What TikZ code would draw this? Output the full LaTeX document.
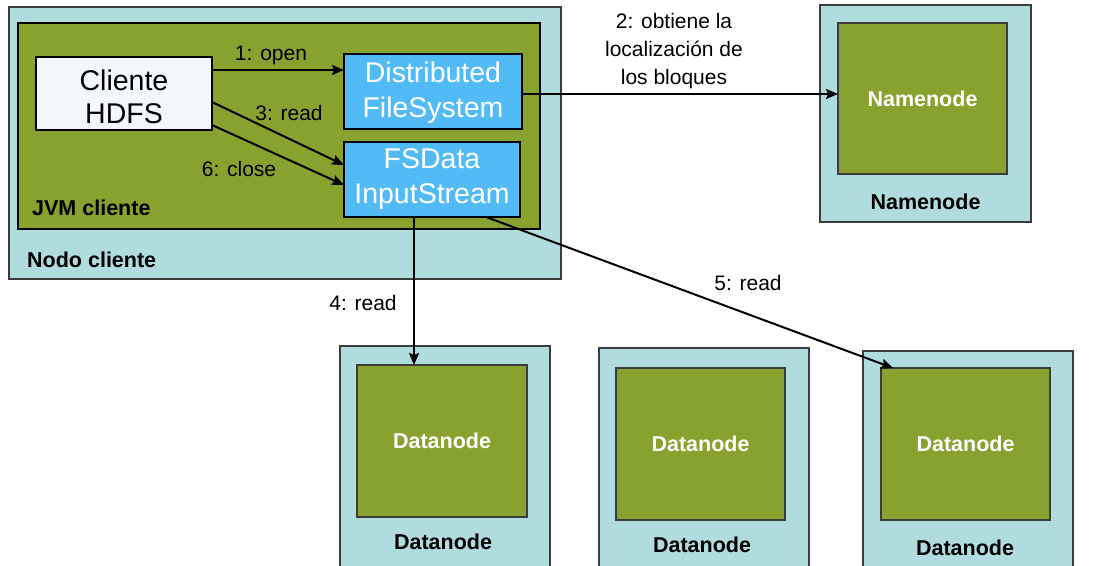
\documentclass[tikz,border=0pt]{standalone}
\usepackage{fontspec}
\setmainfont{Liberation Sans}
\usetikzlibrary{arrows.meta}

\definecolor{hostfill}{HTML}{B0DCDD}
\definecolor{jvmfill}{HTML}{87A22E}
\definecolor{compfill}{HTML}{52BBF6}
\definecolor{clientfill}{HTML}{F4F8FC}
\definecolor{edgegray}{HTML}{3C3C3C}

% box given by its corners: name, x1, y1, x2, y2, style
\newcommand\placebox[6]{%
  \node[#6, rectangle, inner sep=0pt, outer sep=0pt,
        minimum width={(#4-#2)*1pt}, minimum height={(#5-#3)*1pt}]
        (#1) at ({(#2+#4)/2},{(#3+#5)/2}) {};}

\tikzset{
  host/.style={draw=edgegray, fill=hostfill, line width=1.3pt},
  jvm/.style={draw=black, fill=jvmfill, line width=2.6pt},
  daemon/.style={draw=edgegray, fill=jvmfill, line width=1.4pt},
  client/.style={draw=black, fill=clientfill, line width=2.2pt},
  comp/.style={draw=black, fill=compfill, line width=2.6pt},
  boxtext/.style={align=center, inner sep=0pt, font=\fontsize{28.5}{33}\selectfont},
  comptext/.style={boxtext, text=white, font=\fontsize{28.5}{35}\selectfont},
  boldlbl/.style={font=\bfseries\fontsize{21.5}{24}\selectfont, inner sep=0pt},
  whitelbl/.style={boldlbl, text=white},
  lbl/.style={font=\fontsize{21}{28}\selectfont, inner sep=0pt, align=center},
  arr/.style={-{Stealth[length=12pt,width=10pt,inset=2pt]}, line width=2pt},
}

\begin{document}
\begin{tikzpicture}[x=1pt, y=-1pt]
\useasboundingbox (0,0) rectangle (1094,565);
\fill[white] (0,0) rectangle (1094,565);

% client host with its JVM
\placebox{nodo}{9}{7}{561}{279}{host}
\placebox{jvmbox}{18}{23}{540}{229}{jvm}
\placebox{cliente}{36}{57}{212}{130}{client}
\placebox{dfs}{344}{54}{522}{129}{comp}
\placebox{fsd}{344}{142}{520}{217}{comp}
\node[boxtext] (clientetxt) at (124,97) {Cliente\\HDFS};
\node[comptext] (dfstxt) at (433,93) {Distributed\\FileSystem};
\node[comptext] (fsdtxt) at (432,179) {FSData\\InputStream};
\node[boldlbl, anchor=west] (jvmlbl) at (32,208) {JVM cliente};
\node[boldlbl, anchor=west] (nodolbl) at (27,260) {Nodo cliente};

% namenode host
\placebox{nnhost}{820}{5}{1031}{222}{host}
\placebox{nnin}{838}{23}{1007}{174}{daemon}
\node[whitelbl] (nninlbl) at (nnin) {Namenode};
\node[boldlbl] (nnlbl) at (925.5,202) {Namenode};

% datanode hosts
\placebox{dnahost}{340}{346}{550}{568}{host}
\placebox{dnain}{357}{365}{527}{517}{daemon}
\node[whitelbl] (dnainlbl) at (dnain) {Datanode};
\node[boldlbl] (dnalbl) at (443,542) {Datanode};

\placebox{dnbhost}{599}{348}{809}{568}{host}
\placebox{dnbin}{616}{368}{785}{520}{daemon}
\node[whitelbl] (dnbinlbl) at (dnbin) {Datanode};
\node[boldlbl] (dnblbl) at (702,545) {Datanode};

\placebox{dnchost}{863}{351}{1073}{568}{host}
\placebox{dncin}{881}{368}{1050}{520}{daemon}
\node[whitelbl] (dncinlbl) at (dncin) {Datanode};
\node[boldlbl] (dnclbl) at (965,548) {Datanode};

% calls
\draw[arr] ([yshift=23.5pt]cliente.east) -- ([yshift=21.5pt]dfs.west);
\draw[arr] ([yshift=-8.5pt]cliente.east) -- ([yshift=14.5pt]fsd.west);
\draw[arr] ([yshift=-31.5pt]cliente.east) -- ([yshift=-5.5pt]fsd.west);
\draw[arr] ([yshift=-2.5pt]dfs.east) -- ([yshift=-2.5pt]dfs.east -| nnin.west);
\draw[arr] ([xshift=-18pt]fsd.south) -- ([xshift=-18pt]fsd.south |- dnain.north);
\draw[arr] ([xshift=54pt]fsd.south) -- ([xshift=12pt]dncin.north west);

\node[lbl] (l1) at (271,55) {1: open};
\node[lbl] (l3) at (289,113) {3: read};
\node[lbl] (l6) at (239,169) {6: close};
\node[lbl] (l2) at (674,51) {2: obtiene la\\localización de\\los bloques};
\node[lbl] (l4) at (363,303) {4: read};
\node[lbl] (l5) at (748,283) {5: read};
\end{tikzpicture}
\end{document}
